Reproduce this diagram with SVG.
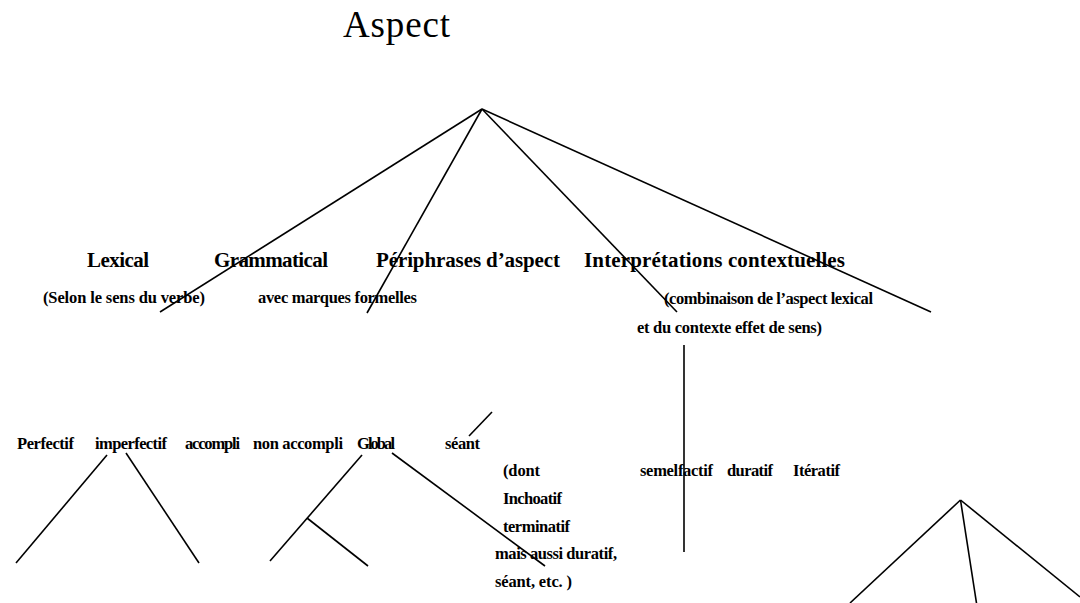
<svg xmlns="http://www.w3.org/2000/svg" width="1080" height="603" viewBox="0 0 1080 603">
<style>
.ln{stroke:#000;stroke-width:1.6;fill:none}
.t{font-family:"Liberation Serif",serif;font-weight:bold;font-size:16.5px;fill:#000}
.h{font-family:"Liberation Serif",serif;font-weight:bold;font-size:21px;fill:#000}
.title{font-family:"Liberation Serif",serif;font-size:37px;fill:#000}
</style>
<rect width="1080" height="603" fill="#fff"/>
<g id="connectors">
<line class="ln" x1="482" y1="109" x2="160" y2="312"/>
<line class="ln" x1="482" y1="109" x2="367" y2="313"/>
<line class="ln" x1="482" y1="109" x2="677" y2="312"/>
<line class="ln" x1="482" y1="109" x2="931" y2="312"/>
<line class="ln" x1="684" y1="345" x2="684" y2="552"/>
<line class="ln" x1="469" y1="436" x2="492" y2="412"/>
<line class="ln" x1="107" y1="455" x2="16" y2="563"/>
<line class="ln" x1="126" y1="453" x2="199" y2="563"/>
<line class="ln" x1="362" y1="455" x2="270" y2="561"/>
<line class="ln" x1="307" y1="518" x2="368" y2="566"/>
<line class="ln" x1="392" y1="453" x2="545" y2="566"/>
<line class="ln" x1="960.5" y1="500" x2="850" y2="603"/>
<line class="ln" x1="960.5" y1="500" x2="976.5" y2="603"/>
<line class="ln" x1="960.5" y1="500" x2="1080" y2="597"/>
</g>
<g id="aspect"><text class="title" x="343" y="37" textLength="107">Aspect</text></g>
<g id="lexical">
<text class="h" x="87" y="267" textLength="62">Lexical</text>
<text class="t" x="43" y="303" textLength="162">(Selon le sens du verbe)</text>
</g>
<g id="grammatical">
<text class="h" x="214" y="267" textLength="114">Grammatical</text>
<text class="t" x="258" y="303" textLength="159">avec marques formelles</text>
</g>
<g id="periphrases"><text class="h" x="376" y="267" textLength="184">Périphrases d’aspect</text></g>
<g id="interpretations">
<text class="h" x="584" y="267" textLength="261">Interprétations contextuelles</text>
<text class="t" x="664" y="304" textLength="209">(combinaison de l’aspect lexical</text>
<text class="t" x="637" y="333" textLength="185">et du contexte effet de sens)</text>
</g>
<g id="perfectif"><text class="t" x="17" y="449" textLength="57">Perfectif</text></g>
<g id="imperfectif"><text class="t" x="95" y="449" textLength="72">imperfectif</text></g>
<g id="accompli"><text class="t" x="185" y="449" textLength="55">accompli</text></g>
<g id="non-accompli"><text class="t" x="253" y="449" textLength="90">non accompli</text></g>
<g id="global"><text class="t" x="357" y="449" textLength="38">Global</text></g>
<g id="seant"><text class="t" x="445" y="449" textLength="35">séant</text></g>
<g id="dont">
<text class="t" x="503" y="476" textLength="37">(dont</text>
<text class="t" x="503" y="504" textLength="59">Inchoatif</text>
<text class="t" x="503" y="532" textLength="67">terminatif</text>
<text class="t" x="495" y="559" textLength="122">mais aussi duratif,</text>
<text class="t" x="495" y="587" textLength="77">séant, etc. )</text>
</g>
<g id="semelfactif"><text class="t" x="640" y="476" textLength="73">semelfactif</text></g>
<g id="duratif"><text class="t" x="727" y="476" textLength="46">duratif</text></g>
<g id="iteratif"><text class="t" x="793" y="476" textLength="47">Itératif</text></g>
</svg>
